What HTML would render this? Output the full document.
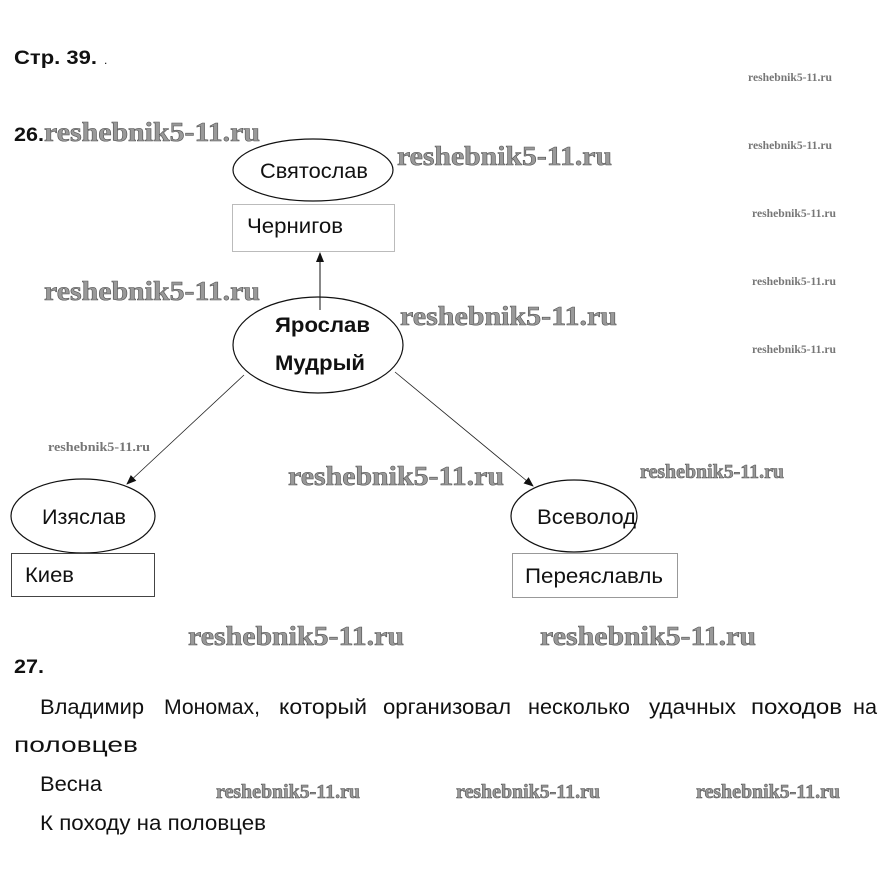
<!DOCTYPE html>
<html><head><meta charset="utf-8"><style>
html,body{margin:0;padding:0;background:#fff}
svg{display:block}
.t{font-family:"Liberation Sans",sans-serif;fill:#111}
.w{font-family:"Liberation Serif",serif;font-weight:bold;fill:#999;stroke:#555;stroke-width:0.6}
.ws{font-family:"Liberation Serif",serif;font-weight:bold;fill:#777}
</style></head><body>
<svg width="885" height="883" viewBox="0 0 885 883" xmlns="http://www.w3.org/2000/svg">
<defs><marker id="a" markerWidth="10" markerHeight="10" refX="9" refY="5" orient="auto" markerUnits="userSpaceOnUse"><path d="M0,1 L10,5 L0,9 Z" fill="#111"/></marker></defs>
<text class="t" x="14" y="64" font-size="19" font-weight="bold" textLength="83" lengthAdjust="spacingAndGlyphs">Стр. 39.</text>
<text class="t" x="104" y="64" font-size="12">.</text>
<text class="ws" x="748" y="81" font-size="12" textLength="84" lengthAdjust="spacingAndGlyphs">reshebnik5-11.ru</text>
<text class="ws" x="748" y="149" font-size="12" textLength="84" lengthAdjust="spacingAndGlyphs">reshebnik5-11.ru</text>
<text class="ws" x="752" y="217" font-size="12" textLength="84" lengthAdjust="spacingAndGlyphs">reshebnik5-11.ru</text>
<text class="ws" x="752" y="285" font-size="12" textLength="84" lengthAdjust="spacingAndGlyphs">reshebnik5-11.ru</text>
<text class="ws" x="752" y="353" font-size="12" textLength="84" lengthAdjust="spacingAndGlyphs">reshebnik5-11.ru</text>

<text class="t" x="14" y="141" font-size="19" font-weight="bold" textLength="30" lengthAdjust="spacingAndGlyphs">26.</text>
<text class="w" x="44" y="141" font-size="27" textLength="216" lengthAdjust="spacingAndGlyphs">reshebnik5-11.ru</text>
<text class="w" x="397" y="165" font-size="27" textLength="215" lengthAdjust="spacingAndGlyphs">reshebnik5-11.ru</text>
<text class="w" x="44" y="300" font-size="27" textLength="216" lengthAdjust="spacingAndGlyphs">reshebnik5-11.ru</text>
<text class="w" x="400" y="325" font-size="27" textLength="217" lengthAdjust="spacingAndGlyphs">reshebnik5-11.ru</text>
<text class="ws" x="48" y="451" font-size="13" textLength="102" lengthAdjust="spacingAndGlyphs">reshebnik5-11.ru</text>
<text class="w" x="288" y="485" font-size="27" textLength="216" lengthAdjust="spacingAndGlyphs">reshebnik5-11.ru</text>
<text class="w" x="640" y="478" font-size="20" textLength="144" lengthAdjust="spacingAndGlyphs">reshebnik5-11.ru</text>
<text class="w" x="188" y="645" font-size="27" textLength="216" lengthAdjust="spacingAndGlyphs">reshebnik5-11.ru</text>
<text class="w" x="540" y="645" font-size="27" textLength="216" lengthAdjust="spacingAndGlyphs">reshebnik5-11.ru</text>

<ellipse cx="313" cy="170" rx="80" ry="31" fill="none" stroke="#111" stroke-width="1.2"/>
<text class="t" x="260" y="178" font-size="21" textLength="108" lengthAdjust="spacingAndGlyphs">Святослав</text>
<rect x="232.5" y="204.5" width="162" height="47" fill="none" stroke="#bbb" stroke-width="1"/>
<text class="t" x="247" y="233" font-size="21" textLength="96" lengthAdjust="spacingAndGlyphs">Чернигов</text>
<line x1="320" y1="310" x2="320" y2="253" stroke="#111" stroke-width="1" marker-end="url(#a)"/>

<ellipse cx="318" cy="345" rx="85" ry="48" fill="none" stroke="#111" stroke-width="1.2"/>
<text class="t" x="275" y="332" font-size="21" font-weight="bold" textLength="95" lengthAdjust="spacingAndGlyphs">Ярослав</text>
<text class="t" x="275" y="370" font-size="21" font-weight="bold" textLength="90" lengthAdjust="spacingAndGlyphs">Мудрый</text>
<line x1="244" y1="375" x2="127" y2="484" stroke="#222" stroke-width="0.8" marker-end="url(#a)"/>
<line x1="395" y1="372" x2="533" y2="486" stroke="#222" stroke-width="0.8" marker-end="url(#a)"/>

<ellipse cx="83" cy="516" rx="72" ry="37" fill="none" stroke="#111" stroke-width="1.2"/>
<text class="t" x="42" y="524" font-size="21" textLength="84" lengthAdjust="spacingAndGlyphs">Изяслав</text>
<rect x="11.5" y="553.5" width="143" height="43" fill="none" stroke="#444" stroke-width="1"/>
<text class="t" x="25" y="582" font-size="21" textLength="49" lengthAdjust="spacingAndGlyphs">Киев</text>

<ellipse cx="574" cy="516" rx="63" ry="36" fill="none" stroke="#111" stroke-width="1.2"/>
<text class="t" x="537" y="524" font-size="21" textLength="99" lengthAdjust="spacingAndGlyphs">Всеволод</text>
<rect x="512.5" y="553.5" width="165" height="44" fill="none" stroke="#999" stroke-width="1"/>
<text class="t" x="525" y="583" font-size="21" textLength="138" lengthAdjust="spacingAndGlyphs">Переяславль</text>

<text class="t" x="14" y="673" font-size="19" font-weight="bold" textLength="30" lengthAdjust="spacingAndGlyphs">27.</text>
<g class="t" font-size="21">
<text x="40" y="714" textLength="104" lengthAdjust="spacingAndGlyphs">Владимир</text>
<text x="164" y="714" textLength="96" lengthAdjust="spacingAndGlyphs">Мономах,</text>
<text x="279" y="714" textLength="88" lengthAdjust="spacingAndGlyphs">который</text>
<text x="383" y="714" textLength="128" lengthAdjust="spacingAndGlyphs">организовал</text>
<text x="528" y="714" textLength="102" lengthAdjust="spacingAndGlyphs">несколько</text>
<text x="649" y="714" textLength="87" lengthAdjust="spacingAndGlyphs">удачных</text>
<text x="751" y="714" textLength="91" lengthAdjust="spacingAndGlyphs">походов</text>
<text x="853" y="714" textLength="24" lengthAdjust="spacingAndGlyphs">на</text>
<text x="14" y="752" textLength="124" lengthAdjust="spacingAndGlyphs">половцев</text>
<text x="40" y="791" textLength="62" lengthAdjust="spacingAndGlyphs">Весна</text>
<text x="40" y="830" textLength="226" lengthAdjust="spacingAndGlyphs">К походу на половцев</text>
</g>
<text class="w" x="216" y="798" font-size="20" textLength="144" lengthAdjust="spacingAndGlyphs">reshebnik5-11.ru</text>
<text class="w" x="456" y="798" font-size="20" textLength="144" lengthAdjust="spacingAndGlyphs">reshebnik5-11.ru</text>
<text class="w" x="696" y="798" font-size="20" textLength="144" lengthAdjust="spacingAndGlyphs">reshebnik5-11.ru</text>
</svg>
</body></html>
